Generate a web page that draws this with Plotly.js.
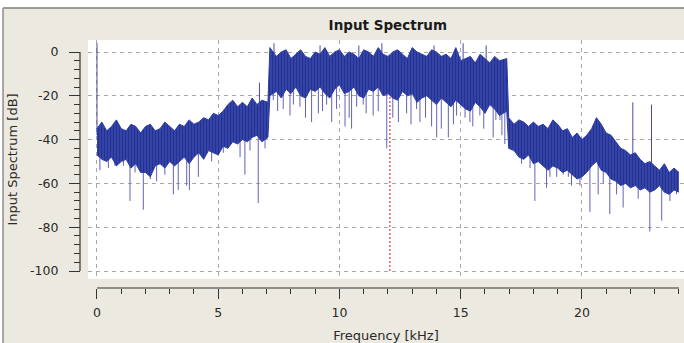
<!DOCTYPE html>
<html>
<head>
<meta charset="utf-8">
<script src="https://cdn.plot.ly/plotly-3.0.1.min.js"></script>
<style>
html,body{margin:0;padding:0;background:#ffffff;}
#chart{width:684px;height:343px;}
</style>
</head>
<body>
<div id="chart"></div>
<script>
// Frequency grid (kHz)
const freq = [0,0.2,0.4,0.6,0.8,1,1.2,1.4,1.6,1.8,2,2.2,2.4,2.6,2.8,3,3.2,3.4,3.6,3.8,
  4,4.2,4.4,4.6,4.8,5,5.2,5.4,5.6,5.8,6,6.2,6.4,6.6,6.8,7.05,7.13,7.4,7.6,7.8,
  8,8.2,8.4,8.6,8.8,9,9.2,9.4,9.6,9.8,10,10.2,10.4,10.6,10.8,11,11.2,11.4,11.6,11.8,
  12,12.2,12.4,12.6,12.8,13,13.2,13.4,13.6,13.8,14,14.2,14.4,14.6,14.8,15,15.2,15.4,15.6,15.8,
  16,16.2,16.4,16.6,16.9,16.98,17.2,17.4,17.6,17.8,18,18.2,18.4,18.6,18.8,19,19.2,19.4,19.6,19.8,
  20,20.2,20.4,20.6,20.8,21,21.2,21.4,21.6,21.8,22,22.2,22.4,22.6,22.8,23,23.2,23.4,23.6,23.8,24];
// Upper edge of the dense spectrum band (dB)
const bandUpper = [-35,-32,-36,-34,-31,-35,-36,-33,-34,-37,
  -34,-33,-36,-35,-32,-34,-36,-33,-34,-31,
  -33,-32,-30,-31,-28,-29,-27,-24,-22,-25,
  -23,-25,-21,-24,-22,-23,2,-2,0,1,
  -3,-1,1,-2,-3,0,-1,2,-2,0,
  1,-2,0,-1,-3,1,0,-2,2,-1,
  -2,0,1,-1,-3,2,0,-1,-2,1,
  0,-2,-1,-3,2,-4,-3,-2,-5,-1,
  -3,-5,-2,-4,-3,-30,-33,-31,-32,-34,
  -32,-34,-33,-35,-31,-33,-36,-35,-39,-37,
  -40,-38,-35,-30,-33,-37,-38,-41,-44,-45,
  -47,-46,-49,-51,-50,-52,-54,-51,-55,-53,
  -55];
// Lower edge of the dense spectrum band (dB)
const bandLower = [-47,-49,-50,-48,-52,-50,-49,-53,-51,-55,
  -55,-57,-52,-51,-53,-50,-52,-50,-48,-51,
  -48,-46,-49,-45,-46,-47,-43,-44,-41,-42,
  -40,-41,-39,-38,-41,-39,-20,-18,-21,-17,
  -19,-16,-20,-21,-17,-18,-16,-19,-21,-17,
  -15,-19,-18,-16,-20,-21,-17,-18,-16,-20,
  -19,-21,-22,-18,-20,-19,-23,-21,-20,-22,
  -24,-21,-23,-25,-22,-24,-26,-27,-23,-25,
  -28,-24,-26,-29,-27,-44,-45,-48,-49,-47,
  -51,-50,-52,-54,-52,-53,-55,-54,-56,-58,
  -57,-55,-52,-50,-54,-55,-58,-59,-61,-60,
  -62,-61,-63,-62,-64,-63,-61,-64,-65,-63,
  -64];
// Downward notches (kHz, dB)
const dipFreq = [0.12,0.47,0.74,1.09,1.36,1.57,1.91,2.2,2.46,2.8,3.15,3.35,3.7,3.81,4.18,4.73,5.21,5.9,6.1,6.31,6.65,6.93,
  7.27,7.45,7.68,7.96,8.1,8.37,8.6,8.85,9.13,9.3,9.47,9.68,9.88,10.23,10.4,10.5,10.71,10.98,11.1,11.39,11.6,11.95,12.2,12.43,12.77,12.95,13.18,13.32,13.55,13.8,14.01,14.2,14.49,
  14.7,14.83,15.18,15.38,15.5,15.79,15.95,16.0,16.34,16.45,16.62,16.7,16.82,
  17.51,17.86,18.06,18.54,18.68,18.96,19.23,19.44,19.57,19.92,20.33,20.67,20.88,21.15,21.43,21.7,22.05,22.32,22.8,23.29,23.63,23.9];
const dipLevel = [-54,-53,-52,-52,-68,-55,-72,-58,-59,-56,-65,-63,-61,-63,-57,-50,-46,-48,-56,-45,-69,-44,
  -22,-27,-26,-29,-24,-25,-30,-32,-28,-27,-24,-32,-26,-34,-30,-35,-25,-24,-28,-29,-27,-44,-30,-32,-28,-33,-26,-32,-30,-34,-39,-35,-39,
  -33,-29,-30,-32,-34,-29,-35,-28,-39,-31,-31,-38,-42,
  -51,-53,-68,-62,-57,-57,-56,-57,-61,-61,-73,-65,-60,-74,-65,-71,-62,-67,-82,-77,-68,-65];
// Upward spikes / whiskers (kHz, dB)
const spikeFreq = [0, 6.7, 7.3, 9.2, 10.8, 11.75, 13.9, 15.1, 16.05, 22.1, 22.87];
const spikeLevel = [4, -14, 4, 3, 3, 4, 3, 4, 3, -23, -24];
// Red frequency marker
const markerFreq = [12.08];
const markerRange = [-100, -5];
// Tick labels
const xTickVals = [0,5,10,15,20];
const xTickText = ['0','5','10','15','20'];
const yTickVals = [0,-20,-40,-60,-80,-100];
const yTickText = ['0','-20','-40','-60','-80','-100'];

function idxAt(f){ let i=0; while(i<freq.length-2 && freq[i+1]<=f) i++; return i; }

const dipX=[], dipY=[];
dipFreq.forEach((f,k)=>{ const i=idxAt(f); const top=Math.max(bandLower[i],bandLower[i+1])+3;
  dipX.push(f,f,null); dipY.push(top,dipLevel[k],null); });
const spX=[], spY=[];
spikeFreq.forEach((f,k)=>{ const i=idxAt(f); const bot=Math.min(bandUpper[i],bandUpper[i+1])-3;
  spX.push(f,f,null); spY.push(bot,spikeLevel[k],null); });

const BLUE='#2E3DA3';
const traces = [
  {x:[markerFreq[0],markerFreq[0]], y:markerRange, mode:'lines', line:{color:'#E03A3A', width:1.2, dash:'2px,2px'}, hoverinfo:'skip'},
  {x:dipX, y:dipY, mode:'lines', line:{color:'#6262B4', width:1}, connectgaps:false, hoverinfo:'skip'},
  {x:spX, y:spY, mode:'lines', line:{color:'#4A4AA6', width:1}, connectgaps:false, hoverinfo:'skip'},
  {x:freq, y:bandLower, mode:'lines', line:{color:BLUE, width:1}, hoverinfo:'skip'},
  {x:freq, y:bandUpper, mode:'lines', line:{color:BLUE, width:1}, fill:'tonexty', fillcolor:BLUE,
   fillpattern:{shape:'|', size:3, solidity:0.45, fgcolor:'#25318F', bgcolor:'#3746AE'}, hoverinfo:'skip'}
];

// minor tick positions on y (every 4 dB, excluding majors)
const yMinor=[]; for(let v=-96; v<0; v+=4){ if(v%20!==0) yMinor.push(v); }

const FONT='DejaVu Sans';
const layout = {
  width:684, height:343,
  margin:{l:60, r:0, t:40, b:40, pad:0},
  paper_bgcolor:'#ECE9E0', plot_bgcolor:'#FFFFFF',
  showlegend:false,
  title:{text:'Input Spectrum', xref:'container', yref:'container', x:0.567, xanchor:'center', y:0.927, yanchor:'middle',
    font:{family:FONT, size:13.5, weight:700, color:'#1A1A1A'}},
  xaxis:{domain:[0.04487,1], range:[-0.371,24.21], anchor:'free', position:0.05703,
    showline:false, zeroline:false, ticks:'outside', ticklen:10, tickwidth:1, tickcolor:'#333',
    tickmode:'array', tickvals:xTickVals, ticktext:xTickText,
    minor:{dtick:1, tick0:0, ticklen:5, tickwidth:1, tickcolor:'#333', ticks:'outside', showgrid:false},
    showgrid:true, gridcolor:'#A8A8A8', gridwidth:1, griddash:'4px,4px',
    tickfont:{family:FONT, size:12.5, color:'#2A2A2A'}, ticklabelstandoff:3,
    title:{text:'Frequency [kHz]', font:{family:FONT, size:13, color:'#2A2A2A'}, standoff:12}},
  yaxis:{domain:[0.09125,1], range:[-103.65,5.48], anchor:'free', position:0.03205,
    showline:false, zeroline:false, ticks:'outside', ticklen:11, tickwidth:1, tickcolor:'#333',
    tickmode:'array', tickvals:yTickVals, ticktext:yTickText,
    minor:{tickmode:'array', tickvals:yMinor, ticklen:6, tickwidth:1, tickcolor:'#333', ticks:'outside', showgrid:false},
    showgrid:true, gridcolor:'#A8A8A8', gridwidth:1, griddash:'4px,4px',
    tickfont:{family:FONT, size:12.5, color:'#2A2A2A'}, ticklabelstandoff:8,
    title:{text:'Input Spectrum [dB]', font:{family:FONT, size:13, color:'#2A2A2A'}, standoff:8}},
  shapes:[
    {type:'rect', xref:'paper', yref:'paper', x0:-0.1, x1:1.01, y0:1.1217, y1:1.2, fillcolor:'#FFFFFF', line:{width:0}, layer:'below'},
    {type:'line', xref:'paper', yref:'paper', x0:-0.0913, x1:1.01, y0:1.1217, y1:1.1217, line:{color:'#7E7E7E', width:1.5}, layer:'below'},
    {type:'rect', xref:'paper', yref:'paper', x0:-0.1, x1:-0.0913, y0:-0.2, y1:1.1217, fillcolor:'#FFFFFF', line:{width:0}, layer:'below'},
    {type:'line', xref:'paper', yref:'paper', x0:-0.0913, x1:-0.0913, y0:-0.2, y1:1.1217, line:{color:'#8E8E8E', width:1.5}, layer:'below'},
    {type:'line', xref:'x', yref:'paper', x0:0, x1:24, y0:0.05703, y1:0.05703, line:{color:'#333', width:1.2}},
    {type:'line', xref:'paper', yref:'y', x0:0.03205, x1:0.03205, y0:-100, y1:0, line:{color:'#333', width:1.2}}
  ]
};
Plotly.newPlot('chart', traces, layout, {staticPlot:true, displayModeBar:false});
</script>
</body>
</html>
